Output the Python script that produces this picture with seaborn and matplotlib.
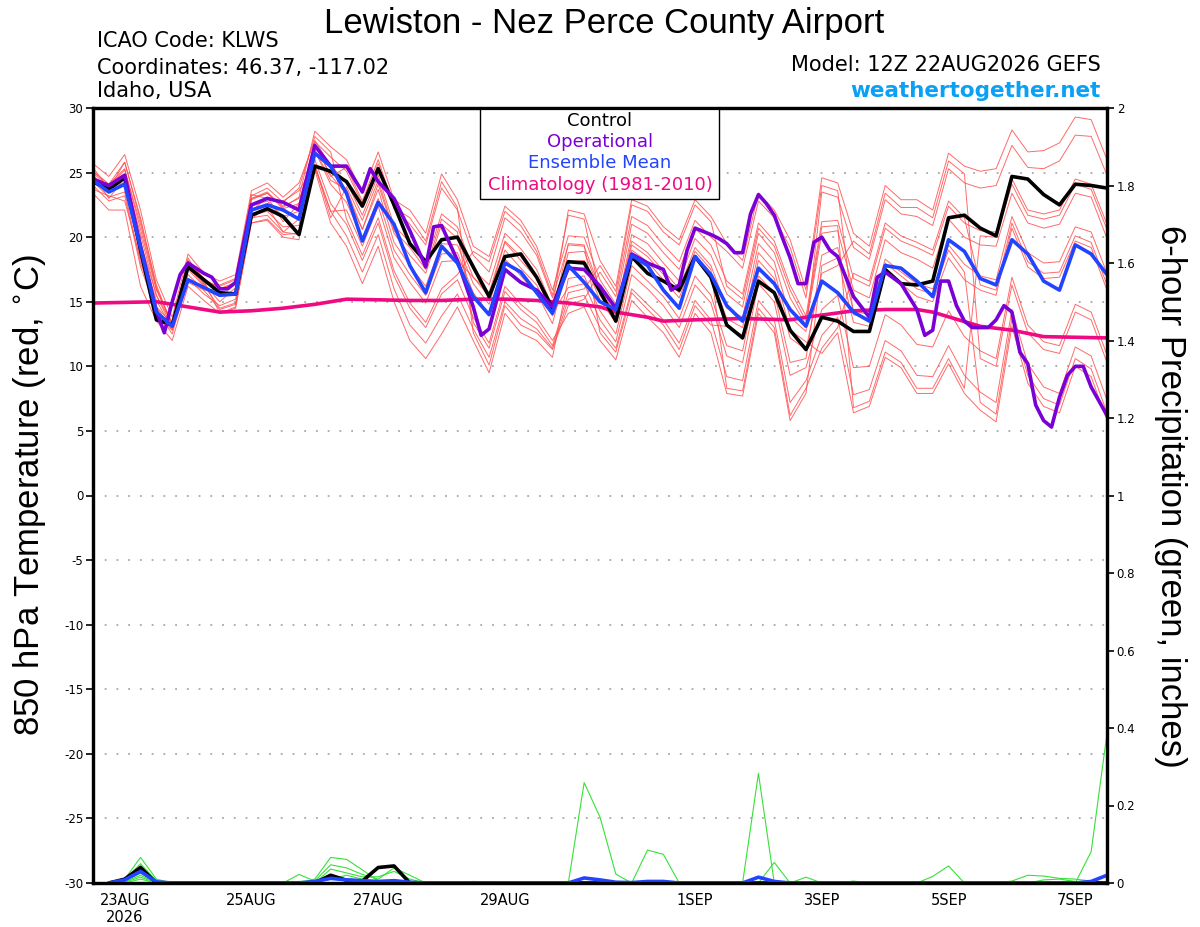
import matplotlib
matplotlib.use("Agg")
import matplotlib.pyplot as plt
from matplotlib.patches import Rectangle
import numpy as np
import pandas as pd
import seaborn as sns

# forecast hours since 12Z 22AUG2026 (6-hourly GEFS output)
fhr = list(range(0, 385, 6))
precip_fhr = list(range(6, 385, 6))

tick_hours = [12, 60, 108, 156, 228, 276, 324, 372]
tick_labels = ["23AUG\n2026", "25AUG", "27AUG", "29AUG", "1SEP", "3SEP", "5SEP", "7SEP"]

# 850 hPa temperature (C)
control = [24.3, 23.7, 24.6, 19.0, 13.6, 13.2, 17.7, 16.7, 15.7, 15.6,
           21.7, 22.2, 21.6, 20.2, 25.5, 25.1, 24.3, 22.4, 25.3, 22.5,
           19.5, 18.1, 19.8, 20.0, 17.7, 15.4, 18.5, 18.7, 16.9, 14.5,
           18.1, 18.0, 15.8, 13.5, 18.5, 17.2, 16.6, 15.9, 18.5, 16.9,
           13.2, 12.2, 16.6, 15.7, 12.8, 11.3, 13.8, 13.5, 12.7, 12.7,
           17.5, 16.4, 16.3, 16.6, 21.5, 21.7, 20.7, 20.1, 24.7, 24.5,
           23.3, 22.5, 24.1, 24.0, 23.8]
ens_mean = [24.4, 23.5, 24.1, 19.2, 14.2, 13.1, 16.7, 16.1, 15.5, 15.6,
            22.1, 22.5, 22.1, 21.4, 26.5, 25.5, 23.4, 19.7, 22.7, 21.0,
            17.8, 15.7, 19.3, 18.0, 15.4, 14.0, 18.0, 17.3, 15.7, 14.1,
            17.8, 16.5, 15.0, 14.4, 18.6, 17.8, 15.9, 14.5, 18.5, 17.1,
            14.7, 13.5, 17.6, 16.4, 14.4, 13.1, 16.6, 15.7, 14.2, 13.5,
            17.8, 17.6, 16.6, 15.4, 19.8, 18.9, 16.8, 16.3, 19.8, 18.7,
            16.6, 15.9, 19.4, 18.7, 17.1]

op_hours = [0, 6, 12, 18, 24, 27, 30, 33, 36, 42, 45, 48, 51, 54, 60, 66, 72, 78, 84, 90,
            96, 102, 105, 108, 114, 120, 126, 129, 132, 138, 144, 147, 150, 156, 162, 168,
            174, 180, 186, 192, 198, 204, 210, 216, 219, 222, 225, 228, 234, 237, 240, 243,
            246, 249, 252, 255, 258, 261, 264, 267, 270, 273, 276, 279, 282, 288, 294, 297,
            300, 306, 312, 315, 318, 321, 324, 327, 330, 333, 336, 339, 342, 345, 348, 351,
            354, 357, 360, 363, 366, 369, 372, 375, 378, 384]
op_temp = [24.5, 24.0, 24.8, 19.3, 14.3, 12.6, 15.0, 17.1, 18.0, 17.2, 16.9, 16.0, 16.0, 16.5,
           22.5, 23.0, 22.7, 22.1, 27.1, 25.5, 25.5, 23.5, 25.3, 24.3, 23.0, 20.5, 17.7, 20.8,
           20.9, 18.2, 14.6, 12.4, 12.9, 17.5, 16.5, 15.9, 14.6, 17.6, 17.5, 16.2, 14.5, 18.7,
           18.0, 17.5, 15.9, 16.3, 19.0, 20.7, 20.2, 19.9, 19.5, 18.8, 18.8, 21.8, 23.3, 22.6,
           21.7, 20.0, 18.4, 16.4, 16.4, 19.6, 20.0, 19.0, 18.5, 15.4, 13.8, 16.9, 17.3, 16.4,
           14.4, 12.4, 12.8, 16.6, 16.6, 14.7, 13.5, 13.0, 13.0, 13.0, 13.6, 14.7, 14.2, 11.1,
           10.2, 7.0, 5.8, 5.3, 7.6, 9.3, 10.0, 10.0, 8.4, 6.2]

clim_hours = [0, 12, 24, 36, 48, 60, 72, 84, 96, 108, 120, 132, 144, 156, 168, 180,
              192, 198, 210, 216, 228, 246, 264, 270, 288, 300, 312, 318, 336, 348, 360, 384]
clim_temp = [14.9, 14.95, 15.0, 14.6, 14.2, 14.3, 14.5, 14.8, 15.2, 15.15, 15.1, 15.1, 15.2, 15.2, 15.1, 14.9,
             14.6, 14.2, 13.8, 13.5, 13.6, 13.7, 13.6, 13.8, 14.3, 14.4, 14.4, 14.2, 13.1, 12.8, 12.3, 12.2]

# ensemble members (read approximately from the spaghetti)
member_01 = [25.7, 24.7, 26.4, 22.1, 16.7, 13.8, 18.7, 17.2, 16.6, 17.1, 23.6, 24.2, 23.1, 24.2,
             27.5, 25.5, 24.3, 21.7, 24.8, 20.9, 19.6, 17.9, 21.8, 20.8, 17.5, 16.3, 20.3, 19.1, 17.5, 14.6,
             22.1, 21.8, 18.2, 16.2, 22.9, 22.4, 20.8, 19.8, 22.9, 21.6, 19.5, 18.2, 23.4, 22.1, 19.8, 15.9,
             24.6, 24.2, 20.3, 19.3, 24.0, 22.9, 22.9, 22.1, 26.5, 25.5, 25.1, 25.3, 28.3, 26.6, 26.7, 27.3, 29.3, 29.1, 26.0]
member_02 = [25.1, 24.1, 25.3, 20.6, 15.9, 13.4, 18.1, 16.7, 16.0, 16.5, 23.0, 23.5, 22.3, 23.1,
             28.2, 27.0, 26.0, 23.4, 26.6, 22.9, 22.1, 20.3, 24.9, 22.9, 19.3, 18.5, 22.4, 21.3, 19.3, 15.9,
             20.1, 20.0, 16.7, 14.8, 21.0, 20.3, 18.8, 17.5, 20.7, 19.4, 16.6, 15.6, 21.1, 19.7, 16.3, 13.9,
             21.2, 21.3, 16.8, 16.2, 20.7, 19.7, 19.2, 18.6, 22.4, 21.1, 20.5, 20.4, 24.5, 22.1, 21.8, 22.1, 24.5, 24.1, 21.0]
member_03 = [24.6, 23.4, 24.3, 19.2, 15.1, 12.9, 17.5, 16.2, 15.4, 15.8, 22.4, 22.8, 21.6, 22.0,
             26.0, 22.6, 21.0, 18.2, 21.1, 17.0, 14.5, 13.0, 15.6, 16.7, 13.8, 11.8, 16.2, 14.8, 13.8, 12.0,
             14.1, 14.6, 12.0, 10.5, 15.1, 13.8, 12.6, 10.7, 14.1, 12.6, 7.9, 7.7, 14.1, 12.6, 5.8, 7.9,
             17.8, 18.4, 13.4, 13.1, 17.4, 16.4, 15.4, 15.0, 18.4, 16.7, 15.9, 15.5, 20.7, 17.7, 16.8, 16.9, 19.7, 19.2, 15.9]
member_04 = [24.0, 22.8, 23.2, 17.7, 14.3, 12.5, 16.8, 15.6, 14.7, 15.2, 21.7, 22.0, 20.8, 20.9,
             26.7, 24.1, 22.7, 19.9, 23.0, 19.0, 17.1, 15.5, 18.7, 18.8, 15.7, 14.0, 18.3, 17.0, 15.7, 13.3,
             18.1, 18.2, 15.1, 13.4, 19.0, 18.1, 16.7, 15.3, 18.5, 17.1, 13.7, 13.0, 18.8, 17.4, 12.8, 11.9,
             11.0, 12.6, 6.4, 6.9, 10.7, 9.9, 7.9, 7.9, 10.2, 7.9, 6.6, 5.7, 13.1, 8.7, 6.9, 6.4, 10.0, 9.2, 5.8]
member_05 = [23.4, 22.1, 22.1, 16.2, 13.5, 12.0, 16.2, 15.1, 14.1, 14.5, 21.1, 21.3, 20.0, 19.8,
             26.8, 24.4, 23.7, 20.6, 24.1, 20.3, 18.6, 17.2, 21.0, 19.9, 16.9, 15.4, 19.6, 18.2, 16.8, 14.1,
             16.1, 16.4, 13.6, 11.9, 17.1, 16.0, 14.7, 13.0, 16.3, 14.9, 10.8, 10.3, 16.4, 15.0, 9.3, 9.9,
             14.4, 15.5, 9.9, 10.0, 14.0, 13.2, 11.7, 11.5, 14.3, 12.3, 11.2, 10.6, 16.9, 13.2, 11.9, 11.6, 14.8, 14.2, 10.9]
member_06 = [24.7, 23.9, 25.2, 21.0, 16.0, 13.3, 18.2, 16.8, 16.0, 16.4, 22.9, 23.4, 22.4, 23.0,
             25.2, 21.1, 19.3, 16.4, 19.3, 15.0, 12.0, 10.6, 12.5, 14.6, 12.0, 9.5, 14.1, 12.6, 12.0, 10.7,
             16.8, 17.0, 14.3, 12.5, 17.8, 16.6, 15.4, 13.7, 17.0, 15.5, 11.6, 11.2, 17.0, 15.7, 10.3, 10.6,
             18.6, 19.2, 14.3, 14.0, 18.3, 17.3, 16.4, 16.0, 19.4, 17.9, 17.0, 16.7, 21.6, 18.8, 18.0, 18.1, 20.8, 20.4, 17.2]
member_07 = [24.9, 23.0, 24.6, 18.5, 14.6, 13.3, 17.9, 16.4, 15.0, 16.1, 22.0, 23.1, 21.2, 22.6,
             27.4, 26.2, 25.1, 22.6, 25.7, 22.2, 21.0, 19.4, 23.8, 22.1, 18.6, 17.3, 21.5, 20.4, 18.6, 15.3,
             19.4, 19.3, 16.0, 14.1, 20.2, 19.5, 18.0, 16.6, 19.9, 18.6, 15.6, 14.6, 20.3, 18.8, 15.3, 13.2,
             20.3, 20.5, 15.9, 15.3, 19.8, 18.8, 18.3, 17.6, 21.4, 20.0, 19.4, 19.3, 23.4, 21.1, 20.7, 21.0, 23.4, 23.1, 19.9]
member_08 = [23.7, 23.2, 22.8, 18.3, 13.9, 12.8, 16.5, 15.9, 14.4, 14.8, 21.4, 22.4, 20.4, 21.4,
             27.1, 24.8, 23.3, 20.6, 23.7, 19.6, 17.8, 16.2, 19.5, 19.4, 16.4, 14.8, 19.0, 17.6, 16.3, 13.9,
             18.8, 18.9, 15.8, 14.0, 19.7, 18.8, 17.4, 16.0, 19.2, 17.8, 14.5, 13.8, 19.5, 18.1, 13.8, 12.7,
             23.5, 23.1, 19.2, 18.3, 22.9, 21.8, 21.6, 20.9, 25.3, 24.2, 23.8, 24.0, 27.1, 25.4, 25.3, 25.9, 27.9, 27.8, 24.8]
member_09 = [25.4, 23.7, 25.8, 21.3, 16.3, 13.1, 18.4, 16.4, 16.3, 16.8, 23.3, 23.0, 22.8, 23.6,
             25.6, 22.0, 20.1, 17.3, 20.2, 16.0, 13.2, 11.8, 13.9, 15.6, 12.9, 10.7, 15.0, 13.7, 12.9, 11.4,
             15.2, 15.5, 13.0, 11.4, 16.0, 14.8, 13.6, 11.8, 15.1, 13.6, 9.2, 8.9, 15.1, 13.6, 7.2, 8.9,
             12.4, 13.8, 7.8, 8.2, 12.0, 11.2, 9.3, 9.2, 11.6, 9.3, 8.0, 7.2, 14.4, 10.2, 8.4, 7.9, 11.5, 10.8, 7.4]
member_10 = [25.0, 23.8, 24.7, 19.6, 15.5, 13.3, 17.9, 16.6,
             16.2, 16.7, 23.2, 23.8, 22.7, 23.8, 27.8, 26.6,
             21.4, 18.6, 21.5, 17.4, 14.9, 13.4, 16.0, 17.1,
             18.9, 18.1, 22.0, 20.9, 18.9, 15.5, 21.7, 21.4,
             15.5, 13.8, 19.4, 18.5, 17.1, 15.7, 18.9, 17.5,
             8.3, 8.1, 14.5, 13.0, 6.2, 8.3, 11.4, 13.0,
             17.2, 16.6, 21.1, 20.1, 19.6, 19.0, 22.8, 21.5,
             16.3, 15.9, 21.1, 18.1, 17.2, 17.3, 20.1, 19.6, 16.3]
member_11 = [24.7, 23.7, 24.9, 20.2, 15.5, 13.0, 17.7, 16.3,
             14.5, 14.9, 21.5, 21.7, 20.4, 20.2, 25.6, 21.5,
             23.9, 21.3, 24.4, 20.5, 19.2, 17.5, 21.4, 20.4,
             13.4, 11.4, 15.8, 14.4, 13.4, 11.6, 15.7, 16.0,
             17.8, 15.8, 22.5, 22.0, 20.4, 19.4, 22.5, 21.2,
             16.2, 15.2, 20.7, 19.3, 15.9, 13.5, 20.8, 20.9,
             6.8, 7.3, 11.1, 10.3, 8.3, 8.3, 10.6, 8.3,
             20.1, 20.0, 24.1, 21.7, 21.4, 21.7, 24.1, 23.7, 20.6]
member_12 = [24.3, 23.1, 23.5, 18.0, 14.6, 12.8, 17.1, 15.9,
             16.0, 16.4, 23.0, 23.4, 22.2, 22.6, 27.3, 24.7,
             25.4, 22.8, 26.0, 22.3, 21.5, 19.7, 24.3, 22.3,
             12.6, 10.1, 14.7, 13.2, 12.6, 11.3, 14.7, 15.2,
             17.3, 15.4, 21.6, 20.9, 19.4, 18.1, 21.3, 20.0,
             18.9, 17.6, 22.8, 21.5, 19.2, 15.3, 24.0, 23.6,
             14.0, 13.7, 18.0, 17.0, 16.0, 15.6, 19.0, 17.3,
             7.2, 6.3, 13.7, 9.3, 7.5, 7.0, 10.6, 9.8, 6.4]
member_13 = [25.1, 24.1, 25.8, 21.5, 16.1, 13.2, 18.1, 16.6,
             14.1, 14.6, 21.1, 21.4, 20.2, 20.3, 25.4, 22.0,
             22.1, 19.3, 22.4, 18.4, 16.5, 14.9, 18.1, 18.2,
             16.9, 15.7, 19.7, 18.5, 16.9, 14.0, 19.5, 19.4,
             12.6, 11.1, 15.7, 14.4, 13.2, 11.3, 14.7, 13.2,
             13.1, 12.4, 18.2, 16.8, 12.2, 11.3, 17.2, 17.8,
             19.7, 18.7, 23.4, 22.3, 22.3, 21.5, 25.9, 24.9,
             10.6, 10.0, 16.3, 12.6, 11.3, 11.0, 14.2, 13.6, 10.3]

# 6-hour precipitation (inches), fhr 6..384
precip_control = [0, 0.01, 0.04, 0, 0, 0, 0, 0,
                  0, 0, 0, 0, 0, 0, 0.02, 0.007,
                  0.005, 0.04, 0.044, 0, 0, 0, 0, 0,
                  0, 0, 0, 0, 0, 0, 0, 0,
                  0, 0, 0, 0, 0, 0, 0, 0,
                  0, 0, 0, 0, 0, 0, 0, 0,
                  0, 0, 0, 0, 0, 0, 0, 0,
                  0, 0, 0, 0, 0, 0, 0, 0]
precip_mean = [0, 0.008, 0.03, 0.003, 0, 0, 0, 0,
               0, 0, 0, 0, 0, 0.004, 0.012, 0.008,
               0.006, 0.004, 0.006, 0.002, 0, 0, 0, 0,
               0, 0, 0, 0, 0, 0, 0.013, 0.008,
               0.002, 0.001, 0.004, 0.004, 0, 0, 0, 0,
               0, 0.015, 0.004, 0, 0, 0, 0, 0,
               0, 0, 0, 0, 0, 0, 0, 0,
               0, 0, 0, 0, 0, 0, 0.004, 0.02]
precip_m01 = [0, 0.01, 0.066, 0.01, 0, 0, 0, 0,
              0, 0, 0, 0, 0, 0.01, 0.066, 0.061,
              0.034, 0.005, 0, 0, 0, 0, 0, 0,
              0, 0, 0, 0, 0, 0, 0, 0,
              0, 0, 0, 0, 0, 0, 0, 0,
              0, 0, 0, 0, 0, 0, 0, 0,
              0, 0, 0, 0, 0, 0, 0, 0,
              0, 0, 0, 0, 0, 0, 0, 0]
precip_m02 = [0, 0.008, 0.05, 0.005, 0, 0, 0, 0,
              0, 0, 0, 0, 0.022, 0.005, 0.047, 0.039,
              0.022, 0.01, 0.039, 0.02, 0, 0, 0, 0,
              0, 0, 0, 0, 0, 0, 0, 0,
              0, 0, 0, 0, 0, 0, 0, 0,
              0, 0, 0, 0, 0, 0, 0, 0,
              0, 0, 0, 0, 0, 0, 0, 0,
              0, 0, 0, 0, 0, 0, 0, 0]
precip_m03 = [0, 0.005, 0.04, 0.004, 0, 0, 0, 0,
              0, 0, 0, 0, 0, 0, 0.036, 0.026,
              0.016, 0.016, 0.03, 0.01, 0, 0, 0, 0,
              0, 0, 0, 0, 0, 0, 0, 0,
              0, 0, 0, 0, 0, 0, 0, 0,
              0, 0, 0, 0, 0, 0, 0, 0,
              0, 0, 0, 0, 0, 0, 0, 0,
              0, 0, 0, 0, 0, 0, 0, 0]
precip_m04 = [0, 0.004, 0.03, 0.002, 0, 0, 0, 0,
              0, 0, 0, 0.003, 0.004, 0.006, 0.022, 0.01,
              0, 0, 0, 0, 0, 0, 0, 0.004,
              0.003, 0, 0, 0, 0, 0, 0, 0,
              0, 0, 0, 0, 0, 0, 0, 0,
              0, 0, 0, 0, 0, 0, 0, 0,
              0, 0, 0, 0, 0, 0, 0, 0,
              0, 0, 0, 0, 0, 0, 0, 0]
precip_m05 = [0, 0.003, 0.02, 0, 0, 0, 0, 0,
              0, 0, 0, 0, 0, 0, 0, 0,
              0, 0, 0, 0, 0, 0, 0, 0,
              0, 0, 0, 0, 0, 0, 0.259, 0.17,
              0.023, 0, 0.085, 0.074, 0, 0, 0, 0,
              0, 0, 0, 0, 0, 0, 0, 0,
              0, 0, 0, 0, 0, 0, 0, 0,
              0, 0, 0, 0, 0, 0, 0, 0]
precip_m06 = [0, 0.002, 0.015, 0, 0, 0, 0, 0,
              0, 0, 0, 0, 0, 0, 0, 0,
              0, 0, 0, 0, 0, 0, 0, 0,
              0, 0, 0, 0, 0, 0, 0, 0,
              0, 0, 0, 0, 0, 0, 0, 0,
              0, 0.283, 0, 0, 0, 0, 0, 0,
              0, 0, 0, 0, 0, 0, 0, 0,
              0, 0, 0, 0, 0, 0, 0, 0]
precip_m07 = [0, 0, 0.01, 0, 0, 0, 0, 0,
              0, 0, 0, 0, 0, 0, 0, 0,
              0, 0, 0, 0, 0, 0, 0, 0,
              0, 0, 0, 0, 0, 0, 0, 0,
              0, 0, 0, 0, 0, 0, 0, 0,
              0, 0, 0.053, 0, 0.015, 0, 0, 0.005,
              0, 0, 0, 0, 0.017, 0.044, 0, 0,
              0, 0, 0, 0, 0, 0, 0, 0]
precip_m08 = [0, 0.006, 0.025, 0.003, 0, 0, 0, 0,
              0, 0, 0, 0, 0, 0, 0, 0,
              0, 0, 0, 0, 0, 0, 0, 0,
              0, 0, 0, 0, 0, 0, 0, 0,
              0, 0, 0, 0, 0, 0, 0, 0,
              0, 0, 0, 0, 0, 0, 0, 0,
              0, 0, 0, 0, 0, 0, 0, 0,
              0, 0.005, 0.02, 0.018, 0.012, 0.01, 0.005, 0]
precip_m09 = [0, 0.004, 0.035, 0, 0, 0, 0, 0,
              0, 0, 0, 0, 0, 0, 0, 0,
              0, 0, 0, 0, 0, 0, 0, 0,
              0, 0, 0, 0, 0, 0, 0, 0,
              0, 0, 0, 0, 0, 0, 0, 0,
              0, 0, 0, 0, 0, 0, 0, 0,
              0, 0, 0, 0, 0, 0, 0, 0,
              0, 0, 0, 0, 0, 0, 0.081, 0.386]
precip_m10 = [0, 0.01, 0.045, 0.006, 0, 0, 0, 0,
              0, 0.003, 0.003, 0, 0, 0, 0.01, 0.02,
              0.01, 0, 0, 0, 0, 0, 0, 0,
              0, 0, 0, 0, 0, 0, 0, 0,
              0, 0, 0, 0, 0, 0, 0, 0,
              0, 0, 0, 0, 0, 0, 0, 0,
              0, 0, 0, 0, 0, 0, 0, 0,
              0, 0, 0, 0.008, 0.01, 0.004, 0, 0]

members = [member_01, member_02, member_03, member_04, member_05, member_06, member_07,
           member_08, member_09, member_10, member_11, member_12, member_13]
precip_members = [precip_m01, precip_m02, precip_m03, precip_m04, precip_m05,
                  precip_m06, precip_m07, precip_m08, precip_m09, precip_m10]

for m in members:
    assert len(m) == len(fhr), len(m)
for p in precip_members + [precip_control, precip_mean]:
    assert len(p) == len(precip_fhr), len(p)
assert len(op_hours) == len(op_temp) and len(clim_hours) == len(clim_temp)

temp_df = pd.DataFrame({
    "fhr": fhr * len(members),
    "temp": [v for m in members for v in m],
    "member": np.repeat(np.arange(len(members)), len(fhr)),
})
precip_df = pd.DataFrame({
    "fhr": precip_fhr * len(precip_members),
    "precip": [v for p in precip_members for v in p],
    "member": np.repeat(np.arange(len(precip_members)), len(precip_fhr)),
})

sns.set_style("white")
plt.rcParams["font.family"] = ["DejaVu Sans"]
plt.rcParams["axes.unicode_minus"] = False
for key in ("text.color", "axes.labelcolor", "xtick.color", "ytick.color"):
    plt.rcParams[key] = "black"

RED = "#FF5050"
GREEN = "#38E038"
BLACK = "#000000"
PURPLE = "#7A00D6"
BLUE = "#2244FF"
PINK = "#EE0A82"

fig = plt.figure(figsize=(12, 9.27), dpi=100)
ax = fig.add_axes([93 / 1200, 44 / 927, 1014 / 1200, 775 / 927])

sns.lineplot(data=temp_df, x="fhr", y="temp", units="member", estimator=None,
             color=RED, lw=0.7, alpha=0.85, legend=False, ax=ax)
sns.lineplot(x=clim_hours, y=clim_temp, color=PINK, lw=2.6, ax=ax)
sns.lineplot(x=fhr, y=control, color=BLACK, lw=2.6, ax=ax)
sns.lineplot(x=op_hours, y=op_temp, color=PURPLE, lw=2.6, ax=ax)
sns.lineplot(x=fhr, y=ens_mean, color=BLUE, lw=2.6, ax=ax)

ax.set_xlim(0, 384)
ax.set_ylim(-30, 30)
ax.set_yticks(range(-30, 31, 5))
ax.set_xticks(tick_hours)
ax.set_xticklabels(tick_labels)
ax.set_xlabel("")
ax.set_ylabel("")
ax.yaxis.grid(True, color="#A8A8A8", linestyle=(0, (1, 5.5)), lw=1.3)
ax.xaxis.grid(False)
ax.set_axisbelow(True)
ax.tick_params(axis="y", direction="out", length=5, width=1.2, labelsize=8.5, pad=2)
ax.tick_params(axis="x", direction="out", length=4, width=1.2, labelsize=10.5, pad=3)

ax2 = ax.twinx()
sns.lineplot(data=precip_df, x="fhr", y="precip", units="member", estimator=None,
             color=GREEN, lw=0.8, legend=False, ax=ax2)
sns.lineplot(x=precip_fhr, y=precip_control, color=BLACK, lw=2.6, ax=ax2)
sns.lineplot(x=precip_fhr, y=precip_mean, color=BLUE, lw=2.6, ax=ax2)
ax2.set_ylim(0, 2)
ax2.set_yticks([0, 0.2, 0.4, 0.6, 0.8, 1.0, 1.2, 1.4, 1.6, 1.8, 2.0])
ax2.set_yticklabels(["0", "0.2", "0.4", "0.6", "0.8", "1", "1.2", "1.4", "1.6", "1.8", "2"])
ax2.set_ylabel("")
ax2.tick_params(axis="y", direction="out", length=5, width=1.2, labelsize=8.5, pad=2)

for a in (ax, ax2):
    for s in a.spines.values():
        s.set_linewidth(2.3)
        s.set_color("black")

# legend box
ax.add_patch(Rectangle((0.3817, 0.8826), 0.2357, 0.1174, transform=ax.transAxes,
                       facecolor="white", edgecolor="black", lw=1.0, zorder=10))
legend_items = [("Control", BLACK, 0.983), ("Operational", PURPLE, 0.956),
                ("Ensemble Mean", BLUE, 0.929), ("Climatology (1981-2010)", PINK, 0.901)]
for label, color, y in legend_items:
    ax.text(0.5, y, label, transform=ax.transAxes, ha="center", va="center",
            color=color, fontsize=13, zorder=11)

# titles and labels
fig.text(604 / 1200, 1 - 32.5 / 927, "Lewiston - Nez Perce County Airport",
         ha="center", va="baseline", fontsize=25, family="Liberation Sans")
for txt, yb in [("ICAO Code: KLWS", 47), ("Coordinates: 46.37, -117.02", 74), ("Idaho, USA", 97)]:
    fig.text(97 / 1200, 1 - yb / 927, txt, ha="left", va="baseline", fontsize=15)
fig.text(1101 / 1200, 1 - 70.7 / 927, "Model: 12Z 22AUG2026 GEFS",
         ha="right", va="baseline", fontsize=15)
fig.text(1101 / 1200, 1 - 97.3 / 927, "weathertogether.net",
         ha="right", va="baseline", fontsize=15.5, fontweight="bold", color="#0AA0F5")
fig.text(30 / 1200, 1 - 495 / 927, "850 hPa Temperature (red, $^{\\circ}$C)",
         rotation=90, ha="center", va="center", fontsize=25, family="Liberation Sans")
fig.text(1170 / 1200, 1 - 496 / 927, "6-hour Precipitation (green, inches)",
         rotation=270, ha="center", va="center", fontsize=25, family="Liberation Sans")

fig.savefig("out.png", dpi=100)
